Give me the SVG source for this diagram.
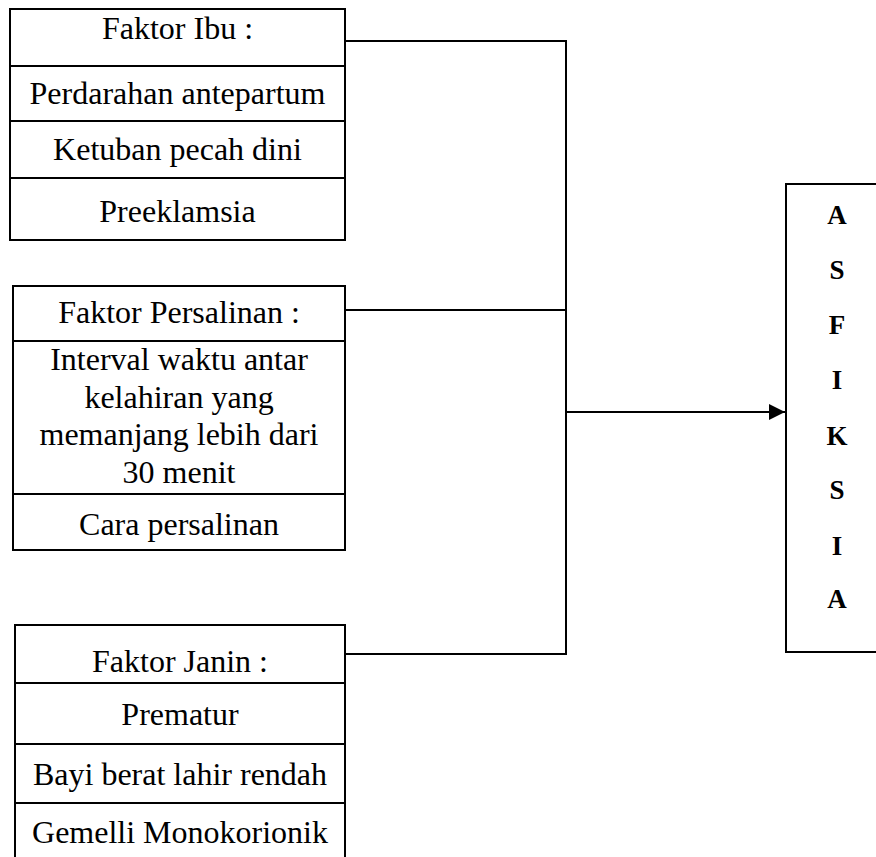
<svg xmlns="http://www.w3.org/2000/svg" width="876" height="857" viewBox="0 0 876 857">
<defs>
<style>
.box{fill:#fff;stroke:#000;stroke-width:2}
.ln{stroke:#000;stroke-width:2;fill:none}
.t{font-family:"Liberation Serif","Times New Roman",serif;font-size:32px;fill:#000;text-anchor:middle}
.b{font-family:"Liberation Serif","Times New Roman",serif;font-size:27px;font-weight:bold;fill:#000;text-anchor:middle}
</style>
<marker id="ah" markerWidth="16" markerHeight="16" refX="16" refY="8" orient="auto" markerUnits="userSpaceOnUse">
<path d="M0,0 L16,8 L0,16 Z" fill="#000"/>
</marker>
</defs>
<rect width="876" height="857" fill="#fff"/>
<g id="connectors">
<path class="ln" d="M345,41 H566 V654 H345"/>
<path class="ln" d="M345,310 H566"/>
<path class="ln" d="M566,412 H785" marker-end="url(#ah)"/>
</g>
<g id="faktor-ibu">
<rect class="box" x="10" y="9" width="335" height="231"/>
<path class="ln" d="M10,66 H345 M10,121 H345 M10,178 H345"/>
<text class="t" x="177.5" y="39">Faktor Ibu :</text>
<text class="t" x="177.5" y="104">Perdarahan antepartum</text>
<text class="t" x="177.5" y="160">Ketuban pecah dini</text>
<text class="t" x="177.5" y="222">Preeklamsia</text>
</g>
<g id="faktor-persalinan">
<rect class="box" x="13" y="286" width="332" height="264"/>
<path class="ln" d="M13,341 H345 M13,494 H345"/>
<text class="t" x="179" y="323">Faktor Persalinan :</text>
<text class="t" x="179" y="370">Interval waktu antar</text>
<text class="t" x="179" y="408">kelahiran yang</text>
<text class="t" x="179" y="445">memanjang lebih dari</text>
<text class="t" x="179" y="483">30 menit</text>
<text class="t" x="179" y="535">Cara persalinan</text>
</g>
<g id="faktor-janin">
<path class="ln" d="M15,860 V625 H345 V860"/>
<path class="ln" d="M15,683 H345 M15,744 H345 M15,803 H345"/>
<text class="t" x="180" y="672">Faktor Janin :</text>
<text class="t" x="180" y="725">Prematur</text>
<text class="t" x="180" y="785">Bayi berat lahir rendah</text>
<text class="t" x="180" y="843">Gemelli Monokorionik</text>
</g>
<g id="asfiksia">
<path class="ln" d="M880,184 H786 V652 H880"/>
<text class="b" x="837" y="224">A</text>
<text class="b" x="837" y="279">S</text>
<text class="b" x="837" y="334">F</text>
<text class="b" x="837" y="389">I</text>
<text class="b" x="837" y="445">K</text>
<text class="b" x="837" y="499">S</text>
<text class="b" x="837" y="555">I</text>
<text class="b" x="837" y="608">A</text>
</g>
</svg>
